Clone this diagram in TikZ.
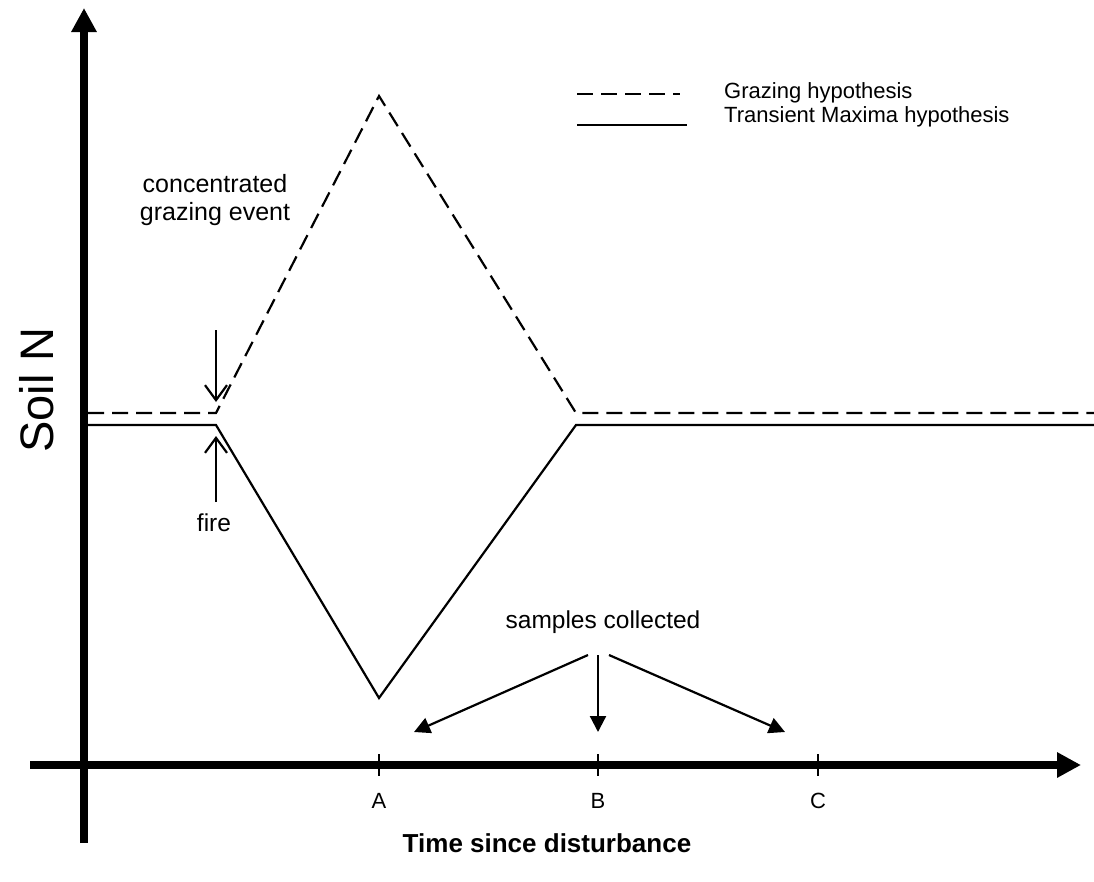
\documentclass[tikz,border=0pt]{standalone}
\usepackage{fontspec}
\setmainfont{Liberation Sans}
\usetikzlibrary{arrows.meta}
\begin{document}
\begin{tikzpicture}[x=1pt,y=-1pt,
  axis/.style={line width=8pt,-{Triangle[length=24pt,width=24pt]}},
  curve/.style={line width=2.2pt,line join=miter},
  dcurve/.style={curve,dash pattern=on 16pt off 8pt},
  tickmark/.style={line width=1.5pt},
  openarrow/.style={line width=2.2pt,-{Straight Barb[length=15pt,width=22pt,line width=2.2pt]}},
  fillarrow/.style={line width=2.2pt,-{Triangle[length=16pt,width=16pt]}},
  lbl/.style={font=\fontsize{24.5}{27}\selectfont,inner sep=0pt},
  tlbl/.style={font=\fontsize{22}{24}\selectfont,inner sep=0pt},
  leg/.style={font=\fontsize{22}{24}\selectfont,inner sep=0pt,anchor=west}]
\useasboundingbox (0,0) rectangle (1094,881);
% axes
\coordinate (ybot) at (84,843);
\coordinate (ytop) at (84,8);
\coordinate (xleft) at (30,765);
\coordinate (xright) at (1081,765);
\draw[axis] (ybot) -- (ytop);
\draw[axis] (xleft) -- (xright);
% ticks
\foreach \n/\x in {A/379,B/598,C/818}{
  \coordinate (t\n a) at (\x,754);
  \coordinate (t\n b) at (\x,776);
  \draw[tickmark] (t\n a) -- (t\n b);
  \node[tlbl] (l\n) at (\x,801) {\n};
}
% curves
\coordinate (d0) at (88,413);
\coordinate (d1) at (216,413);
\coordinate (d2) at (379,96);
\coordinate (d3) at (576,413);
\coordinate (d4) at (1094,413);
\draw[dcurve] (d0) -- (d1) -- (d2) -- (d3) -- (d4);
\coordinate (s0) at (88,425);
\coordinate (s1) at (216,425);
\coordinate (s2) at (379,698);
\coordinate (s3) at (576,425);
\coordinate (s4) at (1094,425);
\draw[curve] (s0) -- (s1) -- (s2) -- (s3) -- (s4);
% labels
\node[lbl,font=\fontsize{47}{52}\selectfont,rotate=90] (soil) at (37,390) {Soil N};
\node[lbl,font=\bfseries\fontsize{26}{28}\selectfont] (time) at (547,843) {Time since disturbance};
\node[lbl,align=center,font=\fontsize{25}{27.5}\selectfont] (graze) at (215,200) {concentrated\\grazing event};
\coordinate (gs) at (216,330);
\coordinate (ge) at (216,402);
\draw[openarrow] (gs) -- (ge);
\node[lbl] (fire) at (214,523) {fire};
\coordinate (fs) at (216,502);
\coordinate (fe) at (216,436);
\draw[openarrow] (fs) -- (fe);
\node[lbl] (samp) at (603,622) {samples collected};
\coordinate (sa) at (588,655);
\coordinate (sb) at (598,655);
\coordinate (sc) at (609,655);
\coordinate (ea) at (414,732);
\coordinate (eb) at (598,732);
\coordinate (ec) at (785,732);
\draw[fillarrow] (sa) -- (ea);
\draw[fillarrow] (sb) -- (eb);
\draw[fillarrow] (sc) -- (ec);
% legend
\coordinate (lg1a) at (577,94);
\coordinate (lg1b) at (680,94);
\coordinate (lg2a) at (577,125);
\coordinate (lg2b) at (687,125);
\draw[dcurve] (lg1a) -- (lg1b);
\draw[curve] (lg2a) -- (lg2b);
\node[leg] (leg1) at (724,93) {Grazing hypothesis};
\node[leg] (leg2) at (724,117) {Transient Maxima hypothesis};
\end{tikzpicture}
\end{document}
